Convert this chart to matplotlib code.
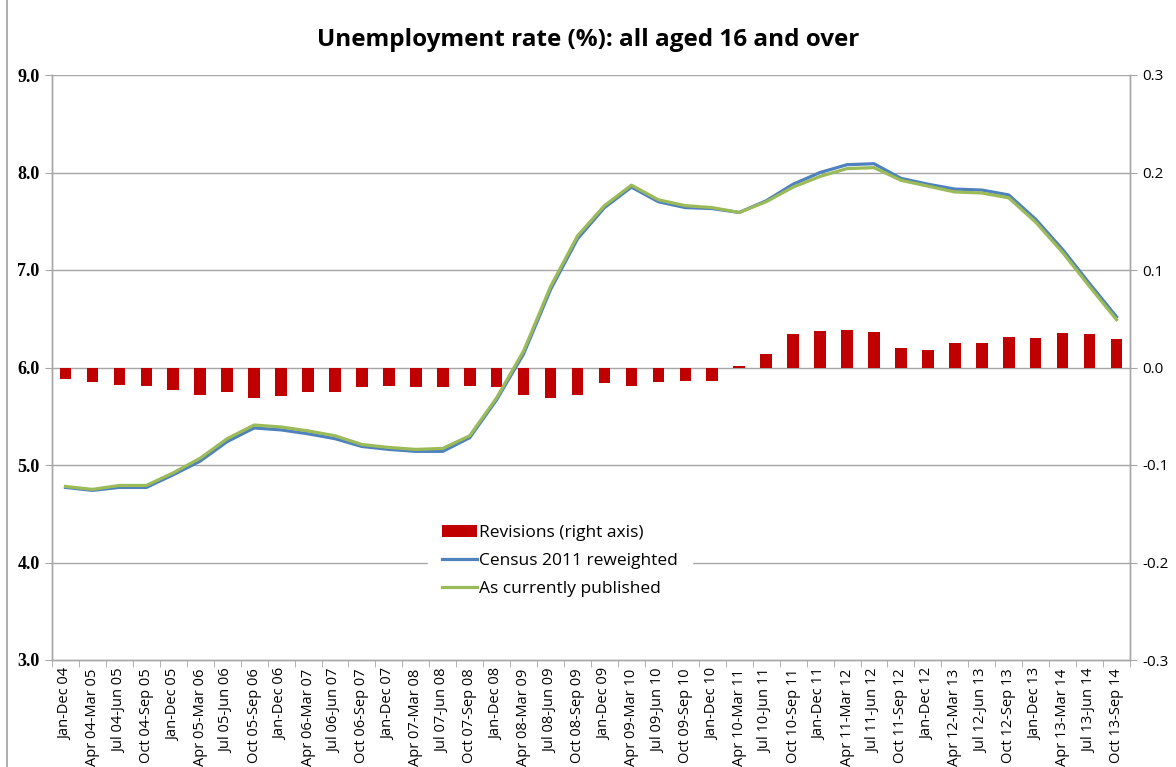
import matplotlib
matplotlib.use("Agg")
import matplotlib.pyplot as plt
from matplotlib.patches import Rectangle, Patch
from matplotlib.lines import Line2D
import numpy as np

categories = [
    "Jan-Dec 04", "Apr 04-Mar 05", "Jul 04-Jun 05", "Oct 04-Sep 05",
    "Jan-Dec 05", "Apr 05-Mar 06", "Jul 05-Jun 06", "Oct 05-Sep 06",
    "Jan-Dec 06", "Apr 06-Mar 07", "Jul 06-Jun 07", "Oct 06-Sep 07",
    "Jan-Dec 07", "Apr 07-Mar 08", "Jul 07-Jun 08", "Oct 07-Sep 08",
    "Jan-Dec 08", "Apr 08-Mar 09", "Jul 08-Jun 09", "Oct 08-Sep 09",
    "Jan-Dec 09", "Apr 09-Mar 10", "Jul 09-Jun 10", "Oct 09-Sep 10",
    "Jan-Dec 10", "Apr 10-Mar 11", "Jul 10-Jun 11", "Oct 10-Sep 11",
    "Jan-Dec 11", "Apr 11-Mar 12", "Jul 11-Jun 12", "Oct 11-Sep 12",
    "Jan-Dec 12", "Apr 12-Mar 13", "Jul 12-Jun 13", "Oct 12-Sep 13",
    "Jan-Dec 13", "Apr 13-Mar 14", "Jul 13-Jun 14", "Oct 13-Sep 14",
]

revisions = [
    -0.012, -0.015, -0.018, -0.019, -0.023, -0.028, -0.025, -0.031,
    -0.029, -0.025, -0.025, -0.020, -0.019, -0.020, -0.020, -0.019,
    -0.020, -0.028, -0.031, -0.028, -0.016, -0.019, -0.015, -0.014,
    -0.014, 0.002, 0.014, 0.034, 0.037, 0.038, 0.036, 0.020,
    0.018, 0.025, 0.025, 0.031, 0.030, 0.035, 0.034, 0.029,
]

census_2011 = [
    4.77, 4.74, 4.77, 4.77, 4.90, 5.04, 5.24, 5.38, 5.36, 5.32,
    5.27, 5.19, 5.16, 5.14, 5.14, 5.28, 5.67, 6.14, 6.80, 7.32,
    7.64, 7.85, 7.70, 7.64, 7.63, 7.59, 7.71, 7.88, 8.00, 8.08,
    8.09, 7.94, 7.88, 7.83, 7.82, 7.77, 7.52, 7.21, 6.86, 6.52,
]

published = [
    4.78, 4.75, 4.79, 4.79, 4.92, 5.07, 5.27, 5.41, 5.39, 5.35,
    5.30, 5.21, 5.18, 5.16, 5.17, 5.30, 5.69, 6.17, 6.83, 7.35,
    7.66, 7.87, 7.72, 7.66, 7.64, 7.59, 7.70, 7.85, 7.96, 8.04,
    8.05, 7.92, 7.86, 7.80, 7.79, 7.74, 7.49, 7.18, 6.83, 6.49,
]

title = "Unemployment rate (%): all aged 16 and over"
left_ticks = [3.0, 4.0, 5.0, 6.0, 7.0, 8.0, 9.0]
right_ticks = [-0.3, -0.2, -0.1, 0.0, 0.1, 0.2, 0.3]

SANS = ["Open Sans", "DejaVu Sans"]
SERIF = ["Liberation Serif", "DejaVu Serif"]
GRID = "#A6A6A6"

fig = plt.figure(figsize=(11.76, 7.67), dpi=100)
fig.patches.append(Rectangle((0.006, -0.01), 1.2, 1.2, transform=fig.transFigure,
                             fill=False, edgecolor="#A0A0A0", linewidth=1.2))

ax = fig.add_axes([52 / 1176, 1 - 660 / 767, (1130 - 52) / 1176, (660 - 75) / 767])
ax2 = ax.twinx()

x = np.arange(len(categories))

# right axis: revisions bars + gridlines (behind the lines)
ax2.bar(x, revisions, width=0.43, color="#C00000", zorder=2)
ax2.set_ylim(-0.3, 0.3)
ax2.set_yticks(right_ticks)
ax2.set_yticklabels([f"{v:.1f}" for v in right_ticks], fontfamily=SANS, fontsize=11)
for v in right_ticks[1:]:
    ax2.axhline(v, color=GRID, linewidth=1.0, zorder=0)

ax.set_ylim(3.0, 9.0)
ax.set_xlim(-0.5, len(categories) - 0.5)
ax.set_yticks(left_ticks)
ax.set_yticklabels([f"{v:.1f}" for v in left_ticks], fontfamily=SERIF,
                   fontsize=13, fontweight="bold")

ax.set_zorder(ax2.get_zorder() + 1)
ax.patch.set_visible(False)

ax.plot(x, census_2011, color="#4F81BD", linewidth=2.3, zorder=3,
        solid_joinstyle="round")
ax.plot(x, published, color="#9BBB59", linewidth=2.3, zorder=4,
        solid_joinstyle="round")

ax.set_xticks(x)
ax.set_xticklabels(categories, rotation=90, fontfamily=SANS, fontsize=10.5)
ax.set_xticks(np.arange(-0.5, len(categories), 1.0), minor=True)
ax.tick_params(axis="x", which="major", length=0, pad=6)
ax.tick_params(axis="x", which="minor", length=5, color=GRID, direction="out")
ax.tick_params(axis="y", length=5, color=GRID, direction="out", pad=4)
ax2.tick_params(axis="y", length=5, color=GRID, direction="out", pad=4)
ax2.tick_params(axis="x", length=0)

for a in (ax, ax2):
    a.spines["top"].set_visible(False)
    for s in ("left", "right", "bottom"):
        a.spines[s].set_color(GRID)
        a.spines[s].set_linewidth(1.0)

handles = [
    Patch(facecolor="#C00000", edgecolor="none"),
    Line2D([0], [0], color="#4F81BD", linewidth=2.3),
    Line2D([0], [0], color="#9BBB59", linewidth=2.3),
]
labels = ["Revisions (right axis)", "Census 2011 reweighted", "As currently published"]
leg = ax.legend(handles, labels, loc="center", bbox_to_anchor=(560 / 1176, 1 - 561 / 767),
                bbox_transform=fig.transFigure, frameon=True, fancybox=False,
                edgecolor="white", facecolor="white", framealpha=1.0,
                prop={"family": SANS, "size": 12.5}, handlelength=2.0,
                handletextpad=0.1, labelspacing=0.7, borderpad=0.8,
                borderaxespad=0)
leg.set_zorder(10)

fig.text(0.5, 1 - 40 / 767, title, ha="center", va="center",
         fontfamily=SANS, fontsize=17.5, fontweight="bold")

fig.savefig("out.png", dpi=100)
